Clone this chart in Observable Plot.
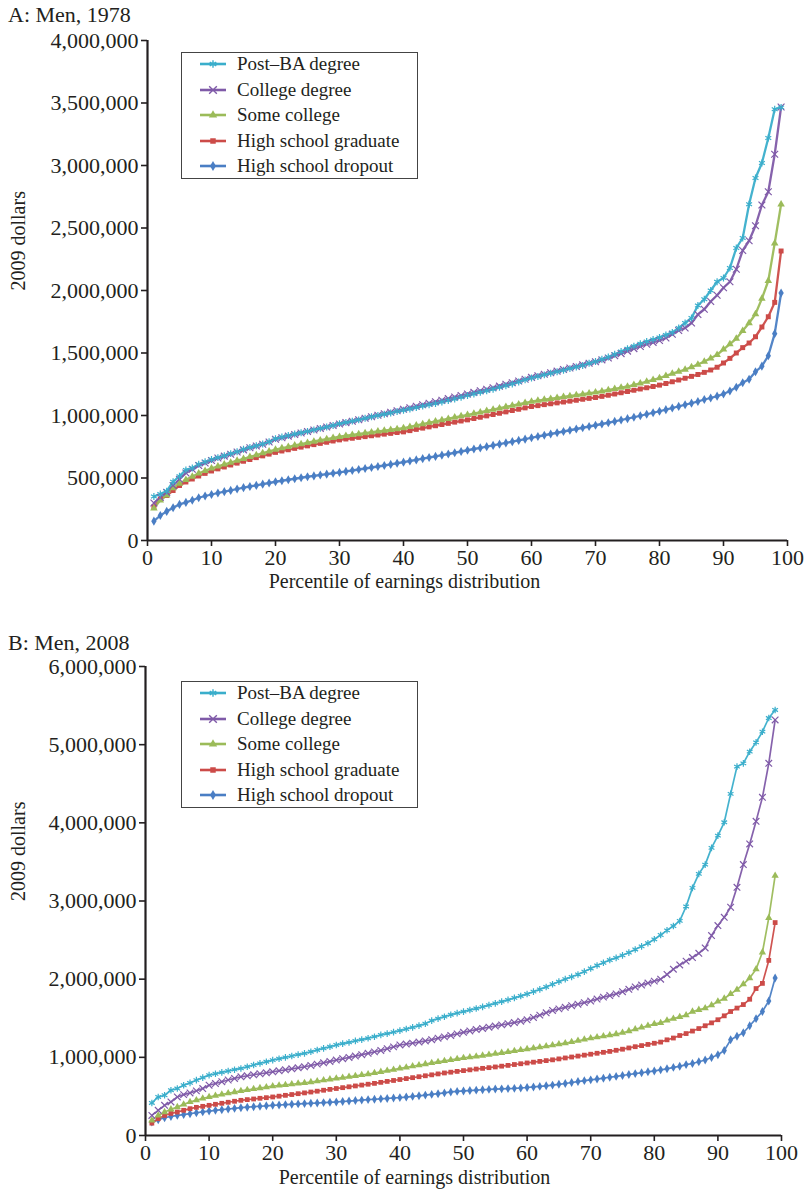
<!DOCTYPE html>
<html><head><meta charset="utf-8">
<script src="https://cdn.jsdelivr.net/npm/d3@7"></script>
<script src="https://cdn.jsdelivr.net/npm/@observablehq/plot@0.6"></script>
<style>
body{margin:0;background:#fff;font-family:"Liberation Serif",serif;color:#231f20;}
#page{position:relative;width:809px;height:1194px;overflow:hidden}
.panel{position:absolute;left:0;width:809px}
.title{position:absolute;left:8px;font-size:22px;line-height:24px;white-space:nowrap}
.legend{position:absolute;left:181px;width:235px;border:1px solid #444;background:#fff;box-sizing:content-box}
.item{position:absolute;left:0;height:25px;display:flex;align-items:center;font-size:19px;white-space:nowrap}
.item svg{margin-left:17px;margin-right:10px}
</style></head><body><div id="page"></div>
<script>
// ---- data (values in thousands of 2009 dollars, percentiles 1..99) ----
const percentiles = d3.range(1, 100);
const seriesNames = ["Post–BA degree", "College degree", "Some college", "High school graduate", "High school dropout"];
const seriesColors = ["#3aaecb", "#7f5aa8", "#9bbb59", "#cc4b48", "#4a7ec4"];
const seriesSymbols = ["asterisk", "times", "triangle", "square", "diamond"];

const men1978_postBA = [352,372,395,470,515,565,580,610,630,648,
663,678,695,710,730,745,758,772,790,815,
828,840,852,862,873,885,897,908,920,935,
945,955,965,978,990,1000,1010,1020,1032,1042,
1052,1063,1075,1085,1095,1108,1120,1132,1145,1160,
1172,1185,1197,1210,1225,1238,1252,1268,1285,1300,
1312,1325,1338,1350,1362,1375,1388,1400,1418,1432,
1450,1468,1490,1512,1535,1555,1575,1592,1608,1625,
1645,1665,1700,1740,1780,1880,1930,2000,2070,2100,
2180,2340,2420,2690,2900,3020,3220,3450,3465];
const men1978_college = [300,345,385,440,490,540,570,600,620,640,
660,675,690,708,725,742,756,770,788,810,
822,835,848,860,872,884,896,908,920,932,
943,954,966,978,990,1002,1014,1026,1038,1050,
1062,1074,1086,1098,1110,1122,1135,1148,1160,1172,
1185,1198,1210,1222,1235,1250,1262,1276,1290,1305,
1318,1330,1342,1355,1368,1380,1392,1405,1418,1430,
1445,1460,1478,1495,1515,1535,1552,1570,1585,1600,
1620,1650,1680,1700,1740,1808,1850,1912,1962,2022,
2070,2170,2320,2398,2518,2684,2790,3090,3468];
const men1978_someCollege = [257,321,362,420,455,485,512,538,558,577,
593,609,624,640,654,669,684,699,713,728,
739,750,761,772,782,792,802,811,821,830,
838,845,852,859,866,873,879,886,892,899,
910,921,932,943,953,964,974,985,995,1005,
1016,1026,1037,1048,1058,1069,1080,1090,1101,1112,
1119,1127,1134,1141,1149,1156,1163,1170,1178,1185,
1194,1204,1213,1223,1232,1245,1258,1272,1286,1300,
1318,1335,1352,1368,1388,1408,1432,1458,1486,1529,
1571,1615,1678,1740,1812,1935,2078,2378,2690];
const men1978_hsGrad = [270,330,360,400,440,468,492,516,537,556,
573,588,604,619,634,648,663,677,691,705,
716,726,737,747,757,767,777,786,796,805,
812,818,825,831,838,844,851,857,864,869,
879,889,899,909,918,928,937,947,956,965,
976,986,997,1008,1018,1029,1040,1050,1061,1072,
1079,1087,1094,1101,1108,1115,1122,1130,1137,1144,
1153,1162,1172,1182,1192,1202,1212,1222,1232,1243,
1256,1270,1284,1298,1313,1328,1345,1364,1386,1420,
1457,1500,1543,1580,1630,1708,1790,1905,2316];
const men1978_dropout = [155,200,233,262,289,305,322,342,356,368,
380,391,401,412,423,432,441,451,460,470,
478,486,494,502,510,517,524,531,538,545,
553,560,568,576,584,592,600,609,618,627,
636,645,655,664,673,683,692,702,712,722,
732,741,751,761,771,781,791,801,811,822,
832,842,852,862,872,882,892,902,912,922,
932,942,953,964,975,986,998,1010,1022,1034,
1047,1060,1073,1086,1099,1112,1128,1140,1155,1172,
1196,1226,1262,1290,1350,1395,1478,1655,1980];

const men2008_postBA = [416,493,515,579,601,643,673,708,740,772,
790,808,825,842,858,880,902,922,944,965,
982,1000,1017,1034,1051,1072,1094,1115,1136,1158,
1175,1192,1210,1227,1244,1264,1287,1303,1322,1342,
1362,1383,1405,1430,1470,1495,1520,1545,1565,1585,
1605,1625,1645,1668,1690,1712,1735,1760,1785,1810,
1840,1870,1900,1935,1969,2000,2030,2060,2097,2137,
2175,2210,2245,2272,2305,2340,2380,2420,2460,2510,
2565,2625,2680,2745,2930,3168,3347,3466,3679,3836,
4007,4370,4719,4761,4910,5030,5166,5341,5444];
const men2008_college = [257,322,386,429,493,523,545,571,601,643,
665,688,710,730,751,764,777,790,802,815,
828,840,853,866,879,896,913,930,948,965,
982,999,1016,1034,1051,1070,1088,1110,1134,1158,
1170,1182,1195,1210,1225,1245,1262,1280,1300,1320,
1338,1355,1370,1385,1400,1415,1430,1445,1462,1480,
1510,1540,1570,1600,1620,1640,1660,1680,1700,1720,
1745,1770,1790,1812,1840,1870,1900,1925,1950,1975,
2000,2060,2128,2182,2231,2276,2331,2399,2558,2686,
2792,2920,3175,3466,3730,4019,4326,4761,5316];
const men2008_someCollege = [193,257,300,335,364,398,429,452,474,493,
510,526,541,556,571,583,595,607,619,631,
640,648,656,665,673,684,696,707,719,730,
741,752,763,774,785,800,815,829,843,858,
872,886,900,914,928,942,955,968,980,992,
1002,1012,1023,1034,1046,1058,1070,1082,1094,1106,
1118,1130,1142,1155,1168,1182,1196,1212,1228,1245,
1258,1270,1284,1298,1315,1336,1359,1382,1404,1427,
1441,1472,1495,1518,1540,1586,1608,1630,1666,1714,
1752,1811,1866,1937,2014,2128,2344,2783,3325];
const men2008_hsGrad = [158,215,257,282,300,322,343,360,373,386,
399,412,425,438,450,459,467,476,484,493,
503,514,524,535,545,556,567,579,590,601,
612,623,634,645,656,667,680,692,704,716,
728,740,752,764,776,788,800,810,820,830,
840,850,859,868,877,887,897,908,918,928,
938,948,958,968,980,992,1004,1016,1028,1040,
1052,1064,1076,1090,1104,1120,1136,1150,1165,1180,
1195,1224,1247,1279,1304,1336,1368,1404,1441,1481,
1531,1586,1630,1675,1743,1880,1946,2240,2724];
const men2008_dropout = [171,202,228,243,257,268,279,291,302,313,
322,330,339,347,356,362,368,374,380,386,
390,395,399,404,408,412,416,421,425,429,
435,441,447,453,459,464,469,474,480,485,
492,500,508,517,526,535,545,557,564,570,
575,580,585,590,594,597,600,603,608,614,
621,628,636,645,655,665,678,690,702,712,
722,733,745,756,768,780,792,803,815,826,
840,853,871,885,907,921,944,966,997,1034,
1088,1224,1269,1315,1404,1495,1586,1721,2014];

const xTicks = [0,10,20,30,40,50,60,70,80,90,100];
const yTicks1978 = [0,500000,1000000,1500000,2000000,2500000,3000000,3500000,4000000];
const yTicks2008 = [0,1000000,2000000,3000000,4000000,5000000,6000000];
const panelTitles = ["A: Men, 1978", "B: Men, 2008"];
const xLabel = "Percentile of earnings distribution";
const yLabel = "2009 dollars";

function rows(arrays) {
  const out = [];
  // draw order: dropout first, post-BA last (on top)
  for (let s = arrays.length - 1; s >= 0; s--) {
    arrays[s].forEach((v, i) => out.push({series: seriesNames[s], p: percentiles[i], v: v * 1000}));
  }
  return out;
}

const page = document.getElementById("page");
const strokeSyms = new Set(["asterisk", "times"]);

function makePanel({top, height, marginTop, marginBottom, marginLeft, marginRight, yMax, yTicks, data, title, titleTop, legendTop, xLabelDx, xLabelDy, yLabelDx, lw, r}) {
  const div = document.createElement("div");
  div.className = "panel";
  div.style.top = top + "px";
  const color = {domain: seriesNames, range: seriesColors};
  const symOf = s => seriesSymbols[seriesNames.indexOf(s)];
  const chart = Plot.plot({
    width: 809, height, marginTop, marginBottom, marginLeft, marginRight,
    style: {fontFamily: "Liberation Serif", color: "#231f20", background: "#fff"},
    x: {domain: [0, 100]},
    y: {domain: [0, yMax]},
    color,
    marks: [
      Plot.axisX({ticks: xTicks, tickSize: 6, tickPadding: 3, fontSize: 22, label: null, strokeWidth: 1.6}),
      Plot.axisY({ticks: yTicks, tickFormat: d3.format(","), tickSize: 6, tickPadding: 3, fontSize: 22, label: null, strokeWidth: 1.6}),
      Plot.line(data, {x: "p", y: "v", z: "series", stroke: "series", strokeWidth: lw, strokeOpacity: 0.95}),
      Plot.dot(data.filter(d => !strokeSyms.has(symOf(d.series))), {x: "p", y: "v", fill: "series", symbol: d => symOf(d.series), r: r}),
      Plot.dot(data.filter(d => strokeSyms.has(symOf(d.series))), {x: "p", y: "v", stroke: "series", symbol: d => symOf(d.series), r: r + 0.4, strokeWidth: 1.2}),
      Plot.ruleX([0], {stroke: "#231f20", strokeWidth: 2.2}),
      Plot.ruleY([0], {stroke: "#231f20", strokeWidth: 2.2}),
      Plot.text([yLabel], {text: d => d, frameAnchor: "left", dx: yLabelDx, rotate: -90, fontSize: 20}),
      Plot.text([xLabel], {text: d => d, frameAnchor: "bottom", dx: xLabelDx, dy: xLabelDy, fontSize: 20})
    ]
  });
  div.appendChild(chart);

  const t = document.createElement("div");
  t.className = "title";
  t.style.top = titleTop + "px";
  t.textContent = title;
  div.appendChild(t);

  const lg = document.createElement("div");
  lg.className = "legend";
  lg.style.top = legendTop + "px";
  lg.style.height = "125px";
  const symMap = {asterisk: d3.symbolAsterisk, times: d3.symbolTimes, triangle: d3.symbolTriangle, square: d3.symbolSquare, diamond: d3.symbolDiamond};
  seriesNames.forEach((name, i) => {
    const it = document.createElement("div");
    it.className = "item";
    it.style.top = (-1.5 + i * 25.5) + "px";
    const svg = d3.create("svg").attr("width", 28).attr("height", 12);
    svg.append("line").attr("x1", 1).attr("x2", 27).attr("y1", 6).attr("y2", 6)
      .attr("stroke", seriesColors[i]).attr("stroke-width", 2.6);
    const sym = seriesSymbols[i];
    const path = svg.append("path").attr("transform", "translate(14,6)")
      .attr("d", d3.symbol(symMap[sym], strokeSyms.has(sym) ? 40 : 30)());
    if (strokeSyms.has(sym)) path.attr("fill", "none").attr("stroke", seriesColors[i]).attr("stroke-width", 1.4);
    else path.attr("fill", seriesColors[i]);
    it.appendChild(svg.node());
    const span = document.createElement("span");
    span.textContent = name;
    it.appendChild(span);
    lg.appendChild(it);
  });
  div.appendChild(lg);
  page.appendChild(div);
}

makePanel({
  top: 0, height: 600, marginTop: 40, marginBottom: 60, marginLeft: 147, marginRight: 22,
  yMax: 4000000, yTicks: yTicks1978,
  data: rows([men1978_postBA, men1978_college, men1978_someCollege, men1978_hsGrad, men1978_dropout]),
  title: panelTitles[0], titleTop: 3, legendTop: 52, xLabelDx: -63, xLabelDy: 47, yLabelDx: -129, lw: 2.3, r: 2.8
});
makePanel({
  top: 620, height: 574, marginTop: 46, marginBottom: 59, marginLeft: 145, marginRight: 28,
  yMax: 6000000, yTicks: yTicks2008,
  data: rows([men2008_postBA, men2008_college, men2008_someCollege, men2008_hsGrad, men2008_dropout]),
  title: panelTitles[1], titleTop: 11, legendTop: 61, xLabelDx: -49, xLabelDy: 48, yLabelDx: -127, lw: 1.7, r: 2.7
});
</script></body></html>
